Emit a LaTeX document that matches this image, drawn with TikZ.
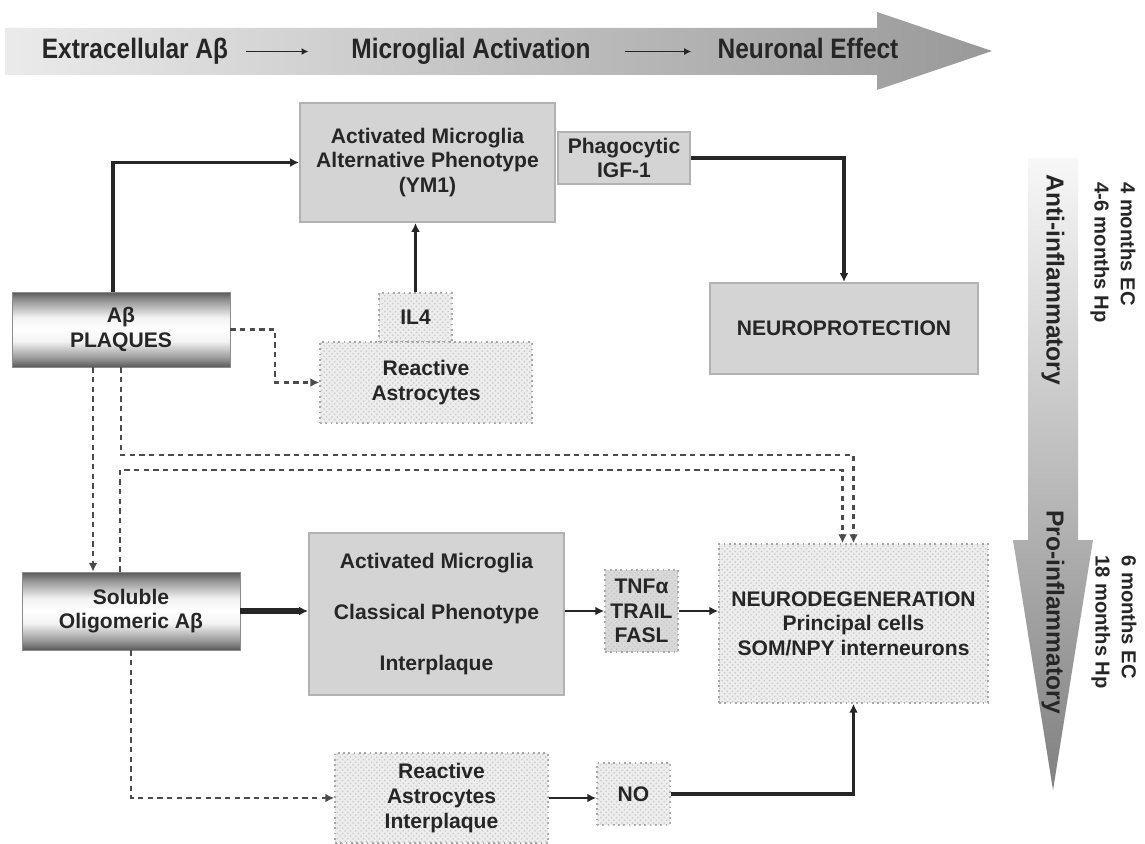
\documentclass[tikz,border=0pt]{standalone}
\usepackage{fontspec}
\setmainfont{Liberation Sans}
\usetikzlibrary{calc,patterns,arrows.meta}

% metallic look of the two amyloid boxes
\pgfdeclareverticalshading{tube}{100bp}{color(0bp)=(black!65); color(25bp)=(black!65); color(31bp)=(black!40); color(42bp)=(black!5); color(50bp)=(white); color(58bp)=(black!5); color(69bp)=(black!40); color(75bp)=(black!65); color(100bp)=(black!65)}

\begin{document}
\begin{tikzpicture}[x=0.02cm, y=-0.02cm, >={Latex[length=5pt,width=5pt]},
    every node/.style={font=\bfseries\fontsize{12}{14}\selectfont, text=black!85, align=center},
    greybox/.style={draw=black!30, line width=1.2pt, fill=black!17},
    dotbox/.style={draw=black!35, dotted, line width=1pt, fill=black!7, postaction={pattern=crosshatch dots, pattern color=black!22}},
    tubebox/.style={draw=black!45, shade, shading=tube},
    boldline/.style={->, line width=2.2pt, black!85},
    thinline/.style={->, line width=1.4pt, black!85},
    dashline/.style={->, dash pattern=on 3pt off 2.5pt, line width=1.2pt, black!70},
    bannerword/.style={xscale=0.87, anchor=base, text height=12pt, text depth=3.5pt, font=\bfseries\fontsize{16}{18}\selectfont},
    bannerarrow/.style={->, >={Latex[length=4pt,width=4pt]}, line width=0.8pt, black!85},
    sideword/.style={rotate=-90, font=\bfseries\fontsize{14}{16}\selectfont},
    sidetime/.style={rotate=-90, anchor=west, align=left, font=\bfseries\fontsize{11.5}{15}\selectfont}]

  \fill[white] (0,0) rectangle (1145,844);

  % time line at the top
  \shade[left color=black!8, right color=black!40] (5,28) -- (877,28) -- (877,12) -- (992,51) -- (877,90) -- (877,75) -- (5,75) -- cycle;
  \node[bannerword] (extra) at (135,59) {Extracellular Aβ};
  \node[bannerword] (micro) at (471,59) {Microglial Activation};
  \node[bannerword] (neur) at (808,59) {Neuronal Effect};
  \draw[bannerarrow, shorten <=0.25cm, shorten >=0.75cm] (extra.east) -- (micro.west);
  \draw[bannerarrow, shorten <=0.58cm, shorten >=0.42cm] (micro.east) -- (neur.west);

  % anti -> pro inflammatory arrow on the right
  \shade[top color=black!3, bottom color=black!50] (1028,158) -- (1078,158) -- (1078,540) -- (1093,540) -- (1053,790) -- (1013,540) -- (1028,540) -- cycle;
  \node[sideword] (anti) at (1053,280) {Anti-inflammatory};
  \node[sideword] (pro) at (1053,612) {Pro-inflammatory};
  \node[sidetime] (early) at (1113,176) {4 months EC\\4-6 months Hp};
  \node[sidetime] (late) at (1114,549) {6 months EC\\18 months Hp};

  % boxes
  \node[greybox, minimum width=5.1cm, minimum height=2.38cm] (alt) at (427.5,162.5) {Activated Microglia\\Alternative Phenotype\\(YM1)};
  \node[greybox, minimum width=2.64cm, minimum height=1.04cm, inner sep=1pt] (phago) at (624,158) {Phagocytic\\IGF-1};
  \node[greybox, minimum width=5.36cm, minimum height=1.82cm] (neuroprot) at (844,328.5) {NEUROPROTECTION};
  \node[tubebox, minimum width=4.36cm, minimum height=1.5cm] (plaques) at (121,329.5) {Aβ\\PLAQUES};
  \node[dotbox, minimum width=1.46cm, minimum height=0.98cm] (il4) at (415.5,317.5) {IL4};
  \node[dotbox, minimum width=4.24cm, minimum height=1.62cm] (astro) at (426,382.5) {Reactive\\Astrocytes};
  \node[tubebox, minimum width=4.36cm, minimum height=1.56cm] (soluble) at (131,611) {Soluble\\Oligomeric Aβ};
  \node[greybox, minimum width=5.1cm, minimum height=3.24cm, font=\bfseries\fontsize{12}{29}\selectfont] (classical) at (436.5,614) {Activated Microglia\\Classical Phenotype\\Interplaque};
  \node[dotbox, fill=black!15, minimum width=1.46cm, minimum height=1.64cm, inner sep=1pt] (tnf) at (641.5,611) {TNFα\\TRAIL\\FASL};
  \node[dotbox, minimum width=5.38cm, minimum height=3.18cm] (neurodeg) at (853.5,623.5) {NEURODEGENERATION\\Principal cells\\SOM/NPY interneurons};
  \node[dotbox, minimum width=4.26cm, minimum height=1.8cm] (astro2) at (441.5,798) {Reactive\\Astrocytes\\Interplaque};
  \node[dotbox, minimum width=1.46cm, minimum height=1.24cm] (no) at (633.5,794) {NO};

  % connections
  \draw[boldline] ($(plaques.north)+(-8,0)$) |- (alt.west);
  \draw[boldline] (phago.east) -| (neuroprot.north);
  \draw[boldline] (il4.north) -- (il4.north |- alt.south);
  \draw[dashline] (plaques.east) -- ++(45,0) |- (astro.west);
  \coordinate (drop) at ($(plaques.south)+(-28,0)$);
  \draw[dashline] (drop) -- (drop |- soluble.north);
  \draw[dashline] (plaques.south) -- ++(0,88) -| (neurodeg.north);
  \coordinate (rise) at ($(soluble.north)+(-11,0)$);
  \draw[dashline] (rise) -- ++(0,-102) -| ($(neurodeg.north)+(-11,0)$);
  \draw[boldline, line width=3pt] (soluble.east) -- (soluble.east -| classical.west);
  \draw[thinline] (tnf.west -| classical.east) -- (tnf.west);
  \draw[thinline] (tnf.east) -- (tnf.east -| neurodeg.west);
  \draw[dashline] (soluble.south) |- (astro2.west);
  \draw[thinline] (astro2.east) -- (astro2.east -| no.west);
  \draw[boldline] (no.east) -| (neurodeg.south);
\end{tikzpicture}
\end{document}
